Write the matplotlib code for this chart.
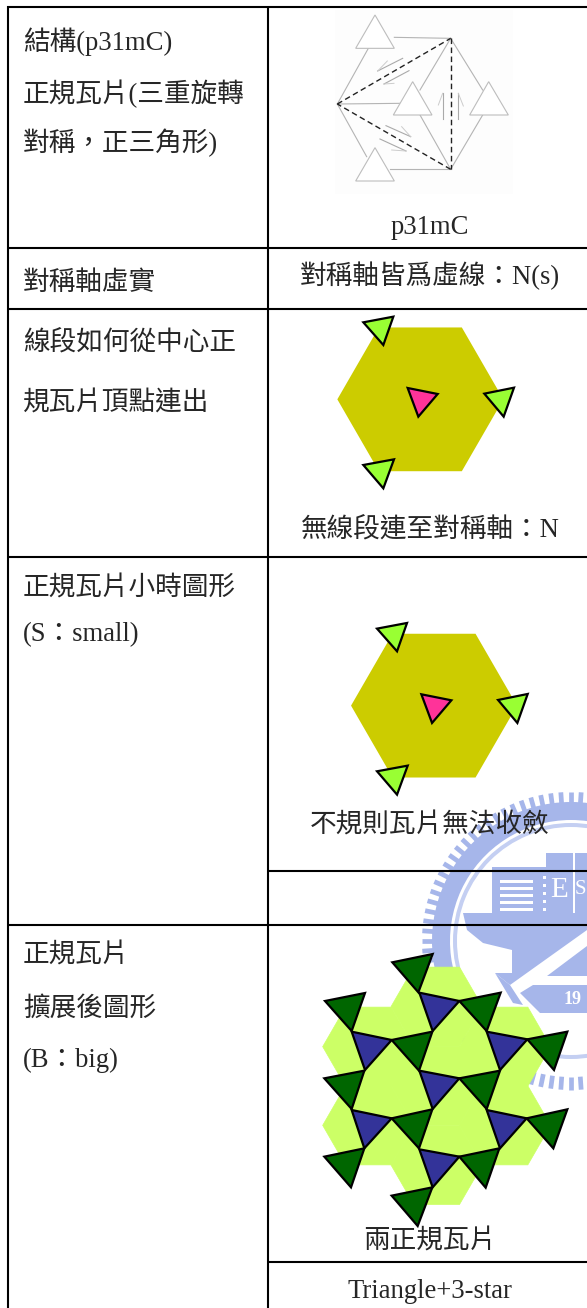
import numpy as np
import matplotlib
matplotlib.use("Agg")
import matplotlib.pyplot as plt
from matplotlib.patches import Polygon, Wedge, Rectangle
from matplotlib.collections import LineCollection

plt.rcParams['font.family'] = ['Liberation Serif', 'Noto Sans CJK TC', 'DejaVu Sans']

W, H = 587, 1308

# table text
left_labels = [
    "結構(p31mC)", "正規瓦片(三重旋轉", "對稱，正三角形)", "對稱軸虛實",
    "線段如何從中心正", "規瓦片頂點連出", "正規瓦片小時圖形", "(S：small)",
    "正規瓦片", "擴展後圖形", "(B：big)",
]
left_label_y = [42, 94, 143, 283, 344, 404, 589, 635, 956, 1009, 1060]
right_labels = [
    "p31mC", "對稱軸皆爲虛線：N(s)", "無線段連至對稱軸：N",
    "不規則瓦片無法收斂", "兩正規瓦片", "Triangle+3-star",
]
right_label_y = [228, 276, 531, 826, 1242, 1291]

# table rules
full_rules_y = [6.5, 248, 308.5, 557, 925]
part_rules_y = [871, 1261.5]

sketch_triangles = [
    [(225, 45), (167, 145), (283, 145)],
    [(338, 245), (280, 345), (396, 345)],
    [(566, 245), (509, 345), (625, 345)],
    [(225, 443), (167, 543), (283, 543)],
]
sketch_edges = [
    [(283, 112), (452, 115)], [(205, 145), (112, 312)], [(112, 312), (300, 310)],
    [(360, 270), (452, 115)], [(360, 345), (452, 508)], [(452, 115), (548, 270)],
    [(548, 345), (452, 508)], [(112, 312), (200, 470)], [(270, 508), (452, 508)],
]
sketch_axes = [[(112, 312), (452, 115)], [(452, 115), (452, 508)], [(452, 508), (112, 312)]]
sketch_half_arrows = [
    [(428, 358), (428, 280), (415, 315)], [(475, 358), (475, 280), (490, 318)],
    [(308, 175), (233, 213), (262, 183)], [(327, 212), (252, 252), (282, 250)],
    [(258, 377), (332, 410), (305, 380)], [(240, 417), (318, 453), (275, 450)],
]

# motif used twice, 3x crop at (300, 300)
motif_green = [
    [(190, 67), (280, 50), (250, 135)],
    [(553, 281), (642, 263), (611, 350)],
    [(190, 495), (282, 478), (250, 565)],
]
motif_pink = [(323, 264), (413, 282), (355, 350)]
motif_hex_center = (361, 298)
motif_hex_r = 249

# tiling, 3x crop at (300, 940)
tile_hex_centers = [(410, 437), (410, 200), (410, 675), (205, 320), (205, 556), (615, 320), (615, 556)]
tile_hex_r = 137
tile_green = [
    [(277, 67), (398, 42), (355, 157)], [(75, 183), (195, 159), (155, 273)],
    [(478, 183), (602, 158), (560, 273)], [(275, 300), (397, 275), (357, 392)],
    [(682, 298), (802, 275), (762, 390)], [(73, 415), (193, 392), (155, 507)],
    [(478, 415), (600, 392), (560, 507)], [(275, 535), (397, 508), (357, 625)],
    [(680, 535), (802, 508), (760, 625)], [(73, 650), (193, 625), (153, 742)],
    [(478, 650), (598, 625), (557, 743)], [(275, 767), (397, 742), (353, 858)],
]
tile_blue = [
    [(358, 158), (478, 183), (398, 273)], [(155, 275), (275, 300), (195, 390)],
    [(560, 275), (682, 298), (600, 390)], [(358, 392), (478, 415), (398, 507)],
    [(155, 510), (275, 535), (193, 625)], [(560, 510), (680, 535), (600, 625)],
    [(358, 628), (478, 650), (398, 742)],
]


def crop_to_px(points, x0, y0):
    return [(x0 + p[0] / 3.0, y0 + p[1] / 3.0) for p in points]


def hexagon(center, r):
    cx, cy = center
    ang = np.deg2rad(np.arange(0, 360, 60))
    return [(cx + r * np.cos(a), cy + r * np.sin(a)) for a in ang]


def draw_motif(ax, x0, y0):
    hex_pts = crop_to_px(hexagon(motif_hex_center, motif_hex_r), x0, y0)
    ax.add_patch(Polygon(hex_pts, closed=True, fc="#cccc00", ec="none", zorder=3))
    for tri in motif_green:
        ax.add_patch(Polygon(crop_to_px(tri, x0, y0), closed=True, fc="#99ff33",
                             ec="black", lw=1.6, joinstyle="miter", zorder=4))
    ax.add_patch(Polygon(crop_to_px(motif_pink, x0, y0), closed=True, fc="#ff3399",
                         ec="black", lw=1.6, joinstyle="miter", zorder=4))


def draw_sketch(ax):
    x0, y0 = 300, 0
    ax.add_patch(Rectangle((335, 10), 178, 184, fc="#fdfdfd", ec="none", zorder=2))
    for seg in sketch_edges:
        pts = np.array(crop_to_px(seg, x0, y0))
        ax.plot(pts[:, 0], pts[:, 1], color="#b4b4b4", lw=0.8, zorder=3)
    for tri in sketch_triangles:
        ax.add_patch(Polygon(crop_to_px(tri, x0, y0), closed=True, fc="white",
                             ec="#bdbdbd", lw=0.8, zorder=3))
    for seg in sketch_axes:
        pts = np.array(crop_to_px(seg, x0, y0))
        ax.plot(pts[:, 0], pts[:, 1], color="#222222", lw=1.0, dashes=(4, 2.5), zorder=4)
    for arrow in sketch_half_arrows:
        pts = np.array(crop_to_px(arrow, x0, y0))
        ax.plot(pts[:2, 0], pts[:2, 1], color="#aaaaaa", lw=0.8, zorder=3)
        ax.plot(pts[1:, 0], pts[1:, 1], color="#cccccc", lw=0.7, zorder=3)


def draw_tiling(ax):
    x0, y0 = 300, 940
    for c in tile_hex_centers:
        ax.add_patch(Polygon(crop_to_px(hexagon(c, tile_hex_r), x0, y0), closed=True,
                             fc="#ccff66", ec="#ccff66", lw=0.5, zorder=3))
    for tri in tile_green:
        ax.add_patch(Polygon(crop_to_px(tri, x0, y0), closed=True, fc="#006600",
                             ec="black", lw=1.6, joinstyle="miter", zorder=4))
    for tri in tile_blue:
        ax.add_patch(Polygon(crop_to_px(tri, x0, y0), closed=True, fc="#333399",
                             ec="black", lw=1.6, joinstyle="miter", zorder=4))


def draw_watermark(ax):
    # school seal showing through behind the table
    blue = "#a6b6ea"
    cx, cy = 571, 941

    # toothed edge
    n_teeth = 92
    segs = []
    for a in np.linspace(0, 2 * np.pi, n_teeth, endpoint=False):
        segs.append([(cx + 136 * np.cos(a), cy + 136 * np.sin(a)),
                     (cx + 149 * np.cos(a), cy + 149 * np.sin(a))])
    ax.add_collection(LineCollection(segs, colors=blue, linewidths=3.4, zorder=1))

    ax.add_patch(Wedge((cx, cy), 139, 140, 40, width=18, fc=blue, ec="none", zorder=1))
    ax.add_patch(Wedge((cx, cy), 118, 0, 360, width=4, fc="#c4cff2", ec="none", zorder=1))

    # buildings
    ax.add_patch(Rectangle((492, 867), 45, 46, fc=blue, ec="none", zorder=1))
    for y in [880, 887, 894, 901, 908]:
        ax.add_patch(Rectangle((500, y), 33, 3, fc="white", ec="none", zorder=1))
    ax.add_patch(Rectangle((546, 853), 41, 60, fc=blue, ec="none", zorder=1))
    ax.add_patch(Rectangle((537, 867), 10, 46, fc=blue, ec="none", zorder=1))
    for y in [876, 884, 892, 900, 908]:
        ax.add_patch(Rectangle((543, y), 2.5, 3, fc="white", ec="none", zorder=1))
    ax.add_patch(Rectangle((573, 853), 1.5, 60, fc="white", ec="none", zorder=1))
    ax.text(559, 890, "E", color="white", fontsize=21, ha="center", va="center", zorder=1)
    ax.text(580.5, 890, "S", color="white", fontsize=15, ha="center", va="center", zorder=1)

    # bowl, mast and the band with the year
    ax.add_patch(Polygon([(463, 913), (587, 913), (587, 930), (510, 985), (495, 973),
                          (512, 973), (512, 950), (483, 943), (467, 930)],
                         closed=True, fc=blue, ec="none", zorder=1))
    ax.add_patch(Polygon([(495, 973), (510, 985), (523, 1005), (513, 1003)],
                         closed=True, fc=blue, ec="none", zorder=1))
    ax.add_patch(Polygon([(547, 976), (587, 946), (587, 976)],
                         closed=True, fc=blue, ec="none", zorder=1))
    ax.add_patch(Polygon([(533, 985), (587, 985), (587, 1013), (540, 1013), (520, 993)],
                         closed=True, fc=blue, ec="none", zorder=1))
    ax.text(573, 999, "19", color="white", fontsize=13, fontweight="bold",
            ha="center", va="center", zorder=1)


def main():
    fig = plt.figure(figsize=(W / 100, H / 100), dpi=100)
    ax = fig.add_axes([0, 0, 1, 1])
    ax.set_xlim(0, W)
    ax.set_ylim(H, 0)
    ax.axis("off")

    draw_watermark(ax)
    draw_sketch(ax)
    draw_motif(ax, 300, 300)
    draw_motif(ax, 313.7, 606.3)
    draw_tiling(ax)

    # table rules
    rule = dict(color="black", lw=1.5, solid_capstyle="butt", zorder=5)
    for y in full_rules_y:
        ax.plot([7, W], [y, y], **rule)
    for y in part_rules_y:
        ax.plot([267, W], [y, y], **rule)
    ax.plot([8, 8], [5.5, H], **rule)
    ax.plot([267.5, 267.5], [5.5, H], **rule)

    for s, y in zip(left_labels, left_label_y):
        ax.text(23, y, s, fontsize=19.2, color="#262626", ha="left", va="center", zorder=6)
    for s, y in zip(right_labels, right_label_y):
        ax.text(430, y, s, fontsize=19.2, color="#262626", ha="center", va="center", zorder=6)

    fig.savefig("out.png", dpi=100)
    plt.close(fig)


if __name__ == "__main__":
    main()
